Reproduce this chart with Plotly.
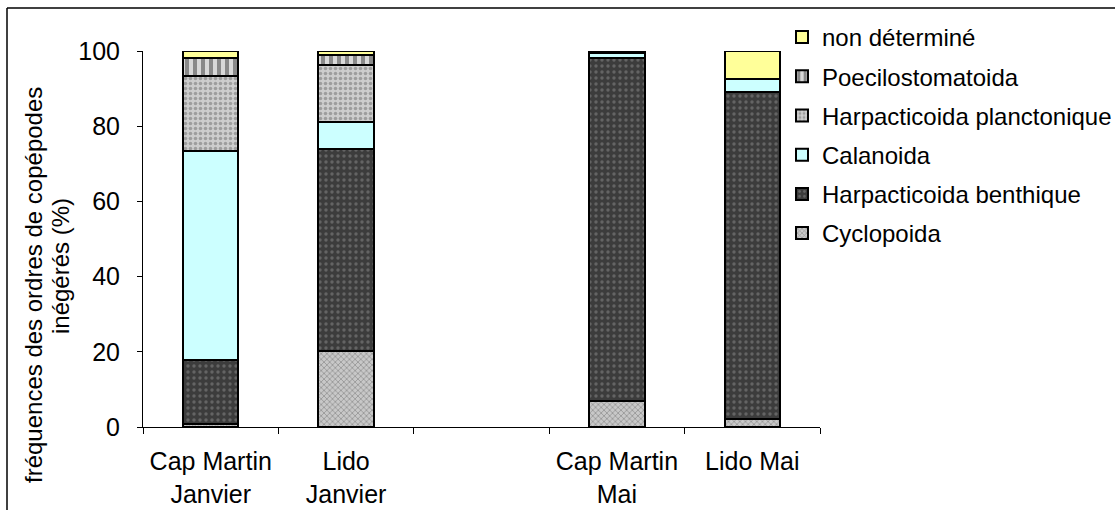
import plotly.graph_objects as go

# ---- data ----
categories = ["Cap Martin<br>Janvier", "Lido<br>Janvier", " ", "Cap Martin<br>Mai", "Lido Mai"]
bar_categories = ["Cap Martin<br>Janvier", "Lido<br>Janvier", "Cap Martin<br>Mai", "Lido Mai"]

cyclopoida = [0.8, 20.3, 6.8, 2.0]
harpacticoida_benthique = [17.0, 53.6, 91.4, 87.2]
calanoida = [55.7, 7.3, 1.3, 3.4]
harpacticoida_planctonique = [19.9, 15.1, 0.2, 0.0]
poecilostomatoida = [4.7, 2.6, 0.1, 0.0]
non_determine = [1.9, 1.1, 0.2, 7.4]

y_ticks = [0, 20, 40, 60, 80, 100]
y_title_lines = ["fréquences des ordres de copépodes", "inégérés (%)"]

series = [
    ("Cyclopoida", cyclopoida, dict(color="#bdbdbd", pattern=dict(shape="x", fgcolor="#6a6a6a", bgcolor="#c8c8c8", size=4, solidity=0.4))),
    ("Harpacticoida benthique", harpacticoida_benthique, dict(color="#3c3c3c", pattern=dict(shape=".", fgcolor="#8c8c8c", bgcolor="#3c3c3c", size=6, solidity=0.25))),
    ("Calanoida", calanoida, dict(color="#ccffff")),
    ("Harpacticoida planctonique", harpacticoida_planctonique, dict(color="#c4c4c4", pattern=dict(shape=".", fgcolor="#6e6e6e", bgcolor="#cdcdcd", size=5, solidity=0.4))),
    ("Poecilostomatoida", poecilostomatoida, dict(color="#9a9a9a", pattern=dict(shape="|", fgcolor="#3a3a3a", bgcolor="#d8d8d8", size=8, solidity=0.5))),
    ("non déterminé", non_determine, dict(color="#ffff99")),
]

FONT = "Liberation Sans, Arial, sans-serif"
W, H = 1115, 510
L, R, T, B = 143, 820, 51, 427  # plot area in pixels

def px_x(p):
    return (p - L) / (R - L)

def px_y(p):
    return (B - p) / (B - T)

fig = go.Figure()
n = len(series)
for i, (name, vals, marker) in enumerate(series):
    m = dict(marker)
    m["line"] = dict(color="black", width=2)
    fig.add_trace(go.Bar(
        x=bar_categories, y=vals, name=name, marker=m, width=0.41,
        legendgroup=f"g{i}", legendrank=n - i,
    ))

title_annots = [
    dict(text=y_title_lines[0], x=px_x(33), y=px_y(285)),
    dict(text=y_title_lines[1], x=px_x(60), y=px_y(266)),
]
for a in title_annots:
    a.update(xref="paper", yref="paper", textangle=-90, showarrow=False,
             xanchor="center", yanchor="middle",
             font=dict(family=FONT, size=24, color="black"))

fig.update_layout(
    width=W, height=H,
    barmode="stack",
    plot_bgcolor="white", paper_bgcolor="white",
    margin=dict(l=L, r=W - R, t=T, b=H - B, pad=0, autoexpand=False),
    font=dict(family=FONT, size=25, color="black"),
    showlegend=True,
    legend=dict(
        x=px_x(782), y=px_y(15), xanchor="left", yanchor="top",
        traceorder="grouped", tracegroupgap=5,
        font=dict(family=FONT, size=24, color="black"),
        bgcolor="rgba(0,0,0,0)", itemwidth=30,
    ),
    xaxis=dict(
        type="category", categoryorder="array", categoryarray=categories,
        range=[-0.5, 4.5], tickson="boundaries", automargin=False,
        showline=True, linecolor="black", linewidth=1,
        ticks="outside", ticklen=6, tickcolor="black", tickwidth=1,
        ticklabelstandoff=12,
        showgrid=False, zeroline=False,
        tickfont=dict(family=FONT, size=25, color="black"),
        fixedrange=True,
    ),
    yaxis=dict(
        range=[0, 100], tickvals=y_ticks, automargin=False,
        showline=True, linecolor="black", linewidth=1,
        ticks="outside", ticklen=5, tickcolor="black", tickwidth=1,
        ticklabelstandoff=12,
        showgrid=False, zeroline=False,
        tickfont=dict(family=FONT, size=25, color="black"),
        fixedrange=True,
    ),
    annotations=title_annots,
    shapes=[
        dict(type="line", xref="paper", yref="paper", x0=px_x(7), x1=px_x(1200), y0=px_y(8), y1=px_y(8),
             line=dict(color="black", width=1.5)),
        dict(type="line", xref="paper", yref="paper", x0=px_x(7), x1=px_x(7), y0=px_y(8), y1=px_y(600),
             line=dict(color="black", width=1.5)),
    ],
)

fig.write_html("out.html", config={"displayModeBar": False},
               post_script="document.body.style.margin='0';")
